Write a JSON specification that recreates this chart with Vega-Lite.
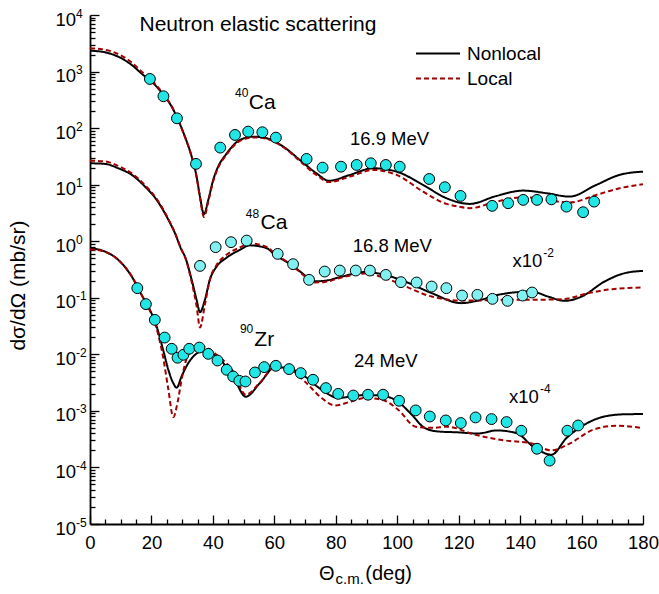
{
"$schema": "https://vega.github.io/schema/vega-lite/v6.json",
"width": 553, "height": 509,
"autosize": {"type": "none"},
"padding": {"left": 90, "top": 15, "right": 16, "bottom": 70},
"background": "white",
"config": {
  "view": {"stroke": null},
  "font": "Liberation Sans",
  "axis": {"grid": false, "labelFont": "Liberation Sans", "titleFont": "Liberation Sans", "labelColor": "black", "tickColor": "black", "domainColor": "black", "titleColor": "black", "labelFlush": false, "labelOverlap": false, "labelBound": false, "titleFontWeight": "normal"},
  "text": {"font": "Liberation Sans", "color": "black"}
},
"datasets": {
  "curves": [
    {"n":"40Ca","m":"Nonlocal","x":0,"y":2340},{"n":"40Ca","m":"Nonlocal","x":4.9,"y":2190},{"n":"40Ca","m":"Nonlocal","x":9.2,"y":1830},{"n":"40Ca","m":"Nonlocal","x":13.6,"y":1306},{"n":"40Ca","m":"Nonlocal","x":17.3,"y":871},{"n":"40Ca","m":"Nonlocal","x":20.1,"y":662},{"n":"40Ca","m":"Nonlocal","x":23.9,"y":385},{"n":"40Ca","m":"Nonlocal","x":26.6,"y":239},{"n":"40Ca","m":"Nonlocal","x":28.7,"y":139},{"n":"40Ca","m":"Nonlocal","x":30.9,"y":70.6},{"n":"40Ca","m":"Nonlocal","x":33.1,"y":31.3},{"n":"40Ca","m":"Nonlocal","x":34.7,"y":13.9},{"n":"40Ca","m":"Nonlocal","x":35.8,"y":6.15},{"n":"40Ca","m":"Nonlocal","x":37.1,"y":3.0},{"n":"40Ca","m":"Nonlocal","x":38.5,"y":5.38},{"n":"40Ca","m":"Nonlocal","x":40.1,"y":12.1},{"n":"40Ca","m":"Nonlocal","x":41.7,"y":20.8},{"n":"40Ca","m":"Nonlocal","x":44.2,"y":33.9},{"n":"40Ca","m":"Nonlocal","x":48.8,"y":61.8},{"n":"40Ca","m":"Nonlocal","x":53.1,"y":70.6},{"n":"40Ca","m":"Nonlocal","x":57.5,"y":66.2},{"n":"40Ca","m":"Nonlocal","x":62.9,"y":47.1},{"n":"40Ca","m":"Nonlocal","x":68.3,"y":27.4},{"n":"40Ca","m":"Nonlocal","x":73.7,"y":15.9},{"n":"40Ca","m":"Nonlocal","x":77.8,"y":11.7},{"n":"40Ca","m":"Nonlocal","x":84.6,"y":14.9},{"n":"40Ca","m":"Nonlocal","x":92.2,"y":19.5},{"n":"40Ca","m":"Nonlocal","x":99.8,"y":17.0},{"n":"40Ca","m":"Nonlocal","x":108.4,"y":9.91},{"n":"40Ca","m":"Nonlocal","x":116,"y":5.77},{"n":"40Ca","m":"Nonlocal","x":123.6,"y":4.57},{"n":"40Ca","m":"Nonlocal","x":132.3,"y":6.32},{"n":"40Ca","m":"Nonlocal","x":141,"y":7.85},{"n":"40Ca","m":"Nonlocal","x":148.6,"y":7.06},{"n":"40Ca","m":"Nonlocal","x":156.1,"y":6.15},{"n":"40Ca","m":"Nonlocal","x":164.8,"y":9.91},{"n":"40Ca","m":"Nonlocal","x":172.4,"y":14.9},{"n":"40Ca","m":"Nonlocal","x":180,"y":17.0},
    {"n":"48Ca","m":"Nonlocal","x":0,"y":23.9},{"n":"48Ca","m":"Nonlocal","x":4.9,"y":23.3},{"n":"48Ca","m":"Nonlocal","x":9.2,"y":19.5},{"n":"48Ca","m":"Nonlocal","x":13.6,"y":14.9},{"n":"48Ca","m":"Nonlocal","x":17.9,"y":9.25},{"n":"48Ca","m":"Nonlocal","x":21.7,"y":5.38},{"n":"48Ca","m":"Nonlocal","x":24.95,"y":2.73},{"n":"48Ca","m":"Nonlocal","x":27.65,"y":1.387},{"n":"48Ca","m":"Nonlocal","x":29.8,"y":0.703},{"n":"48Ca","m":"Nonlocal","x":30.9,"y":0.536},{"n":"48Ca","m":"Nonlocal","x":33.1,"y":0.2075},{"n":"48Ca","m":"Nonlocal","x":34.7,"y":0.092},{"n":"48Ca","m":"Nonlocal","x":35.8,"y":0.0557},{"n":"48Ca","m":"Nonlocal","x":37.4,"y":0.092},{"n":"48Ca","m":"Nonlocal","x":39,"y":0.2075},{"n":"48Ca","m":"Nonlocal","x":41.2,"y":0.356},{"n":"48Ca","m":"Nonlocal","x":44.2,"y":0.5},{"n":"48Ca","m":"Nonlocal","x":48.8,"y":0.703},{"n":"48Ca","m":"Nonlocal","x":52,"y":0.845},{"n":"48Ca","m":"Nonlocal","x":57.5,"y":0.753},{"n":"48Ca","m":"Nonlocal","x":60.2,"y":0.574},{"n":"48Ca","m":"Nonlocal","x":65.6,"y":0.382},{"n":"48Ca","m":"Nonlocal","x":69.9,"y":0.251},{"n":"48Ca","m":"Nonlocal","x":72.6,"y":0.195},{"n":"48Ca","m":"Nonlocal","x":76.4,"y":0.1995},{"n":"48Ca","m":"Nonlocal","x":81.9,"y":0.237},{"n":"48Ca","m":"Nonlocal","x":89.5,"y":0.285},{"n":"48Ca","m":"Nonlocal","x":96,"y":0.254},{"n":"48Ca","m":"Nonlocal","x":102.5,"y":0.194},{"n":"48Ca","m":"Nonlocal","x":111.2,"y":0.121},{"n":"48Ca","m":"Nonlocal","x":120.9,"y":0.0804},{"n":"48Ca","m":"Nonlocal","x":126.3,"y":0.0893},{"n":"48Ca","m":"Nonlocal","x":132.8,"y":0.1127},{"n":"48Ca","m":"Nonlocal","x":143.7,"y":0.129},{"n":"48Ca","m":"Nonlocal","x":149.1,"y":0.105},{"n":"48Ca","m":"Nonlocal","x":154.5,"y":0.0883},{"n":"48Ca","m":"Nonlocal","x":160,"y":0.105},{"n":"48Ca","m":"Nonlocal","x":167.5,"y":0.194},{"n":"48Ca","m":"Nonlocal","x":174,"y":0.272},{"n":"48Ca","m":"Nonlocal","x":180,"y":0.299},
    {"n":"90Zr","m":"Nonlocal","x":0,"y":0.753},{"n":"90Zr","m":"Nonlocal","x":4.9,"y":0.656},{"n":"90Zr","m":"Nonlocal","x":9.2,"y":0.468},{"n":"90Zr","m":"Nonlocal","x":13.6,"y":0.237},{"n":"90Zr","m":"Nonlocal","x":16.8,"y":0.1127},{"n":"90Zr","m":"Nonlocal","x":19.5,"y":0.0612},{"n":"90Zr","m":"Nonlocal","x":21.7,"y":0.031},{"n":"90Zr","m":"Nonlocal","x":23.8,"y":0.01202},{"n":"90Zr","m":"Nonlocal","x":25.5,"y":0.00533},{"n":"90Zr","m":"Nonlocal","x":27.1,"y":0.0031},{"n":"90Zr","m":"Nonlocal","x":28.2,"y":0.00257},{"n":"90Zr","m":"Nonlocal","x":29.8,"y":0.00406},{"n":"90Zr","m":"Nonlocal","x":32,"y":0.007},{"n":"90Zr","m":"Nonlocal","x":34.2,"y":0.00982},{"n":"90Zr","m":"Nonlocal","x":36.3,"y":0.01122},{"n":"90Zr","m":"Nonlocal","x":41.2,"y":0.00914},{"n":"90Zr","m":"Nonlocal","x":46.6,"y":0.00406},{"n":"90Zr","m":"Nonlocal","x":50.7,"y":0.00178},{"n":"90Zr","m":"Nonlocal","x":55.3,"y":0.0031},{"n":"90Zr","m":"Nonlocal","x":60.2,"y":0.00594},{"n":"90Zr","m":"Nonlocal","x":64.5,"y":0.00571},{"n":"90Zr","m":"Nonlocal","x":69.9,"y":0.00406},{"n":"90Zr","m":"Nonlocal","x":75.4,"y":0.00236},{"n":"90Zr","m":"Nonlocal","x":80.8,"y":0.00169},{"n":"90Zr","m":"Nonlocal","x":85.1,"y":0.0018},{"n":"90Zr","m":"Nonlocal","x":89.5,"y":0.00191},{"n":"90Zr","m":"Nonlocal","x":94.9,"y":0.00186},{"n":"90Zr","m":"Nonlocal","x":100.3,"y":0.00145},{"n":"90Zr","m":"Nonlocal","x":104.6,"y":0.00087},{"n":"90Zr","m":"Nonlocal","x":109,"y":0.000497},{"n":"90Zr","m":"Nonlocal","x":113.3,"y":0.000433},{"n":"90Zr","m":"Nonlocal","x":119.8,"y":0.000417},{"n":"90Zr","m":"Nonlocal","x":126.3,"y":0.000398},{"n":"90Zr","m":"Nonlocal","x":132.3,"y":0.000451},{"n":"90Zr","m":"Nonlocal","x":138.8,"y":0.000405},{"n":"90Zr","m":"Nonlocal","x":144.2,"y":0.000235},{"n":"90Zr","m":"Nonlocal","x":150.2,"y":0.000168},{"n":"90Zr","m":"Nonlocal","x":155.1,"y":0.000331},{"n":"90Zr","m":"Nonlocal","x":160,"y":0.000531},{"n":"90Zr","m":"Nonlocal","x":167.5,"y":0.000796},{"n":"90Zr","m":"Nonlocal","x":174,"y":0.000871},{"n":"90Zr","m":"Nonlocal","x":180,"y":0.000879},
    {"n":"40Ca","m":"Local","x":0,"y":2580},{"n":"40Ca","m":"Local","x":4.9,"y":2430},{"n":"40Ca","m":"Local","x":9.2,"y":2040},{"n":"40Ca","m":"Local","x":13.6,"y":1445},{"n":"40Ca","m":"Local","x":17.3,"y":944},{"n":"40Ca","m":"Local","x":20.1,"y":700},{"n":"40Ca","m":"Local","x":23.9,"y":398},{"n":"40Ca","m":"Local","x":26.6,"y":243},{"n":"40Ca","m":"Local","x":28.7,"y":139},{"n":"40Ca","m":"Local","x":30.9,"y":70},{"n":"40Ca","m":"Local","x":33.1,"y":30.9},{"n":"40Ca","m":"Local","x":34.7,"y":13.5},{"n":"40Ca","m":"Local","x":35.8,"y":5.89},{"n":"40Ca","m":"Local","x":37.1,"y":2.69},{"n":"40Ca","m":"Local","x":38.5,"y":5.01},{"n":"40Ca","m":"Local","x":40.1,"y":11.5},{"n":"40Ca","m":"Local","x":41.7,"y":20},{"n":"40Ca","m":"Local","x":44.2,"y":32.4},{"n":"40Ca","m":"Local","x":48.8,"y":59.6},{"n":"40Ca","m":"Local","x":53.1,"y":68.4},{"n":"40Ca","m":"Local","x":57.5,"y":64.6},{"n":"40Ca","m":"Local","x":62.9,"y":46.2},{"n":"40Ca","m":"Local","x":68.3,"y":26.3},{"n":"40Ca","m":"Local","x":73.7,"y":14.8},{"n":"40Ca","m":"Local","x":77.8,"y":11.1},{"n":"40Ca","m":"Local","x":84.6,"y":13.9},{"n":"40Ca","m":"Local","x":92.2,"y":18.2},{"n":"40Ca","m":"Local","x":99.8,"y":14.9},{"n":"40Ca","m":"Local","x":108.4,"y":7.55},{"n":"40Ca","m":"Local","x":116,"y":4.57},{"n":"40Ca","m":"Local","x":120,"y":4.09},{"n":"40Ca","m":"Local","x":123.6,"y":3.84},{"n":"40Ca","m":"Local","x":132.3,"y":5.02},{"n":"40Ca","m":"Local","x":141,"y":6.0},{"n":"40Ca","m":"Local","x":148.6,"y":5.38},{"n":"40Ca","m":"Local","x":156.1,"y":4.82},{"n":"40Ca","m":"Local","x":164.8,"y":6.59},{"n":"40Ca","m":"Local","x":172.4,"y":8.65},{"n":"40Ca","m":"Local","x":180,"y":10.2},
    {"n":"48Ca","m":"Local","x":0,"y":26.6},{"n":"48Ca","m":"Local","x":4.9,"y":25.7},{"n":"48Ca","m":"Local","x":9.2,"y":21.4},{"n":"48Ca","m":"Local","x":13.6,"y":15.8},{"n":"48Ca","m":"Local","x":17.9,"y":9.77},{"n":"48Ca","m":"Local","x":21.7,"y":5.62},{"n":"48Ca","m":"Local","x":24.95,"y":2.82},{"n":"48Ca","m":"Local","x":27.65,"y":1.41},{"n":"48Ca","m":"Local","x":29.8,"y":0.708},{"n":"48Ca","m":"Local","x":30.9,"y":0.531},{"n":"48Ca","m":"Local","x":33.1,"y":0.1905},{"n":"48Ca","m":"Local","x":34.7,"y":0.0708},{"n":"48Ca","m":"Local","x":35.8,"y":0.0298},{"n":"48Ca","m":"Local","x":37.4,"y":0.0759},{"n":"48Ca","m":"Local","x":39,"y":0.209},{"n":"48Ca","m":"Local","x":41.2,"y":0.38},{"n":"48Ca","m":"Local","x":44.2,"y":0.562},{"n":"48Ca","m":"Local","x":48.8,"y":0.776},{"n":"48Ca","m":"Local","x":52,"y":0.912},{"n":"48Ca","m":"Local","x":57.5,"y":0.794},{"n":"48Ca","m":"Local","x":60.2,"y":0.603},{"n":"48Ca","m":"Local","x":65.6,"y":0.38},{"n":"48Ca","m":"Local","x":69.9,"y":0.24},{"n":"48Ca","m":"Local","x":72.6,"y":0.186},{"n":"48Ca","m":"Local","x":76.4,"y":0.1905},{"n":"48Ca","m":"Local","x":81.9,"y":0.229},{"n":"48Ca","m":"Local","x":89.5,"y":0.269},{"n":"48Ca","m":"Local","x":96,"y":0.224},{"n":"48Ca","m":"Local","x":100.3,"y":0.181},{"n":"48Ca","m":"Local","x":111.2,"y":0.105},{"n":"48Ca","m":"Local","x":121,"y":0.0893},{"n":"48Ca","m":"Local","x":126.3,"y":0.0893},{"n":"48Ca","m":"Local","x":132.8,"y":0.092},{"n":"48Ca","m":"Local","x":143.7,"y":0.092},{"n":"48Ca","m":"Local","x":154,"y":0.0946},{"n":"48Ca","m":"Local","x":162.3,"y":0.121},{"n":"48Ca","m":"Local","x":169.9,"y":0.142},{"n":"48Ca","m":"Local","x":180,"y":0.152},
    {"n":"90Zr","m":"Local","x":0,"y":0.724},{"n":"90Zr","m":"Local","x":4.9,"y":0.646},{"n":"90Zr","m":"Local","x":9.2,"y":0.468},{"n":"90Zr","m":"Local","x":13.6,"y":0.24},{"n":"90Zr","m":"Local","x":16.8,"y":0.1122},{"n":"90Zr","m":"Local","x":19.5,"y":0.0589},{"n":"90Zr","m":"Local","x":21.7,"y":0.0282},{"n":"90Zr","m":"Local","x":23.8,"y":0.00891},{"n":"90Zr","m":"Local","x":25.5,"y":0.0024},{"n":"90Zr","m":"Local","x":27.1,"y":0.000776},{"n":"90Zr","m":"Local","x":28.5,"y":0.00141},{"n":"90Zr","m":"Local","x":29.8,"y":0.00355},{"n":"90Zr","m":"Local","x":31.4,"y":0.00832},{"n":"90Zr","m":"Local","x":33.1,"y":0.01175},{"n":"90Zr","m":"Local","x":36.3,"y":0.01374},{"n":"90Zr","m":"Local","x":38.5,"y":0.0126},{"n":"90Zr","m":"Local","x":41.2,"y":0.00982},{"n":"90Zr","m":"Local","x":46.6,"y":0.00498},{"n":"90Zr","m":"Local","x":50.7,"y":0.00193},{"n":"90Zr","m":"Local","x":55.3,"y":0.00316},{"n":"90Zr","m":"Local","x":60.2,"y":0.00589},{"n":"90Zr","m":"Local","x":64.5,"y":0.00562},{"n":"90Zr","m":"Local","x":69.9,"y":0.00331},{"n":"90Zr","m":"Local","x":75.4,"y":0.00169},{"n":"90Zr","m":"Local","x":79.7,"y":0.00125},{"n":"90Zr","m":"Local","x":85.1,"y":0.00147},{"n":"90Zr","m":"Local","x":89.5,"y":0.00169},{"n":"90Zr","m":"Local","x":94.9,"y":0.00158},{"n":"90Zr","m":"Local","x":100.3,"y":0.00105},{"n":"90Zr","m":"Local","x":106,"y":0.000525},{"n":"90Zr","m":"Local","x":111.5,"y":0.000501},{"n":"90Zr","m":"Local","x":116.3,"y":0.000525},{"n":"90Zr","m":"Local","x":125.4,"y":0.000378},{"n":"90Zr","m":"Local","x":135.3,"y":0.000299},{"n":"90Zr","m":"Local","x":143.5,"y":0.000269},{"n":"90Zr","m":"Local","x":150.2,"y":0.0002},{"n":"90Zr","m":"Local","x":156.4,"y":0.00027},{"n":"90Zr","m":"Local","x":163.7,"y":0.000463},{"n":"90Zr","m":"Local","x":171.4,"y":0.000546},{"n":"90Zr","m":"Local","x":180,"y":0.000497}
  ],
  "points": [
    {"n":"40Ca","x":19.5,"y":740},{"n":"40Ca","x":23.9,"y":366},{"n":"40Ca","x":28.3,"y":149},{"n":"40Ca","x":34.5,"y":23.3},{"n":"40Ca","x":42.4,"y":45.2},{"n":"40Ca","x":47.2,"y":75.7},{"n":"40Ca","x":51.5,"y":86.7},{"n":"40Ca","x":56.1,"y":84.5},{"n":"40Ca","x":60.5,"y":67.9},{"n":"40Ca","x":70.5,"y":28.5},{"n":"40Ca","x":75.7,"y":20.0},{"n":"40Ca","x":81.7,"y":20.8},{"n":"40Ca","x":86.8,"y":22.3},{"n":"40Ca","x":91.4,"y":23.9},{"n":"40Ca","x":96.3,"y":22.3},{"n":"40Ca","x":100.8,"y":20.8},{"n":"40Ca","x":110.4,"y":12.6},{"n":"40Ca","x":115.5,"y":9.02},{"n":"40Ca","x":120.6,"y":6.32},{"n":"40Ca","x":130.9,"y":4.22},{"n":"40Ca","x":136.1,"y":4.7},{"n":"40Ca","x":141,"y":5.38},{"n":"40Ca","x":145.5,"y":5.38},{"n":"40Ca","x":150.2,"y":5.5},{"n":"40Ca","x":155.1,"y":4.09},{"n":"40Ca","x":160.5,"y":3.26},{"n":"40Ca","x":164.1,"y":5.02},
    {"n":"48Ca","x":35.8,"y":0.366},{"n":"48Ca","x":40.9,"y":0.785},{"n":"48Ca","x":45.9,"y":0.962},{"n":"48Ca","x":51,"y":1.026},{"n":"48Ca","x":61.1,"y":0.597},{"n":"48Ca","x":66.1,"y":0.393},{"n":"48Ca","x":71.3,"y":0.2075},{"n":"48Ca","x":76.4,"y":0.291},{"n":"48Ca","x":81.3,"y":0.303},{"n":"48Ca","x":86.5,"y":0.303},{"n":"48Ca","x":91.1,"y":0.303},{"n":"48Ca","x":96.3,"y":0.254},{"n":"48Ca","x":101.2,"y":0.189},{"n":"48Ca","x":106.3,"y":0.186},{"n":"48Ca","x":111.2,"y":0.158},{"n":"48Ca","x":116,"y":0.148},{"n":"48Ca","x":121.1,"y":0.1096},{"n":"48Ca","x":126.1,"y":0.1127},{"n":"48Ca","x":131,"y":0.0957},{"n":"48Ca","x":135.9,"y":0.0883},{"n":"48Ca","x":140.8,"y":0.1096},{"n":"48Ca","x":143.9,"y":0.124},
    {"n":"90Zr","x":15.4,"y":0.148},{"n":"90Zr","x":18.2,"y":0.0773},{"n":"90Zr","x":21.1,"y":0.0407},{"n":"90Zr","x":24.3,"y":0.0198},{"n":"90Zr","x":26.6,"y":0.01253},{"n":"90Zr","x":28.5,"y":0.00871},{"n":"90Zr","x":30.4,"y":0.00982},{"n":"90Zr","x":32.3,"y":0.01253},{"n":"90Zr","x":35.6,"y":0.01318},{"n":"90Zr","x":38.5,"y":0.01021},{"n":"90Zr","x":41.5,"y":0.00778},{"n":"90Zr","x":44.5,"y":0.00533},{"n":"90Zr","x":46.6,"y":0.00406},{"n":"90Zr","x":48.6,"y":0.0034},{"n":"90Zr","x":50.6,"y":0.00331},{"n":"90Zr","x":53.7,"y":0.00478},{"n":"90Zr","x":56.7,"y":0.00594},{"n":"90Zr","x":60.5,"y":0.00627},{"n":"90Zr","x":64.8,"y":0.00548},{"n":"90Zr","x":68.6,"y":0.00466},{"n":"90Zr","x":72.6,"y":0.00355},{"n":"90Zr","x":76.8,"y":0.00253},{"n":"90Zr","x":80.8,"y":0.002},{"n":"90Zr","x":85.7,"y":0.00187},{"n":"90Zr","x":90.5,"y":0.00193},{"n":"90Zr","x":95.4,"y":0.00193},{"n":"90Zr","x":100.6,"y":0.00151},{"n":"90Zr","x":106,"y":0.00102},{"n":"90Zr","x":110.6,"y":0.000796},{"n":"90Zr","x":115.8,"y":0.000678},{"n":"90Zr","x":120.7,"y":0.00061},{"n":"90Zr","x":125.5,"y":0.000766},{"n":"90Zr","x":130.7,"y":0.000716},{"n":"90Zr","x":135.6,"y":0.000634},{"n":"90Zr","x":140.4,"y":0.000446},{"n":"90Zr","x":145.5,"y":0.000214},{"n":"90Zr","x":149.6,"y":0.000132},{"n":"90Zr","x":155.4,"y":0.000446},{"n":"90Zr","x":158.9,"y":0.000552}
  ],
  "bigtext": [
    {"t":"16.9 MeV","x":84.6,"y":50.4},{"t":"16.8 MeV","x":85.5,"y":0.64},{"t":"24 MeV","x":85.9,"y":0.005945},{"t":"x10","x":137.5,"y":0.3565},{"t":"x10","x":136.4,"y":0.001374}
  ],
  "names": [
    {"t":"Neutron elastic scattering","x":16.1,"y":5212},{"t":"Ca","x":51.7,"y":215.5},{"t":"Ca","x":55.5,"y":1.62},{"t":"Zr","x":53.5,"y":0.01432}
  ],
  "sups": [
    {"t":"40","x":47.2,"y":351},{"t":"48","x":50.7,"y":2.585},{"t":"90","x":48.8,"y":0.02353},{"t":"-2","x":147.5,"y":0.5355},{"t":"-4","x":146.5,"y":0.002065}
  ],
  "xtitle": [
    {"t":"Θ","x":74.5,"y":1.037e-6},{"t":"(deg)","x":89.6,"y":1.037e-6}
  ],
  "xsub": [
    {"t":"c.m.","x":79.9,"y":8.81e-7}
  ]
},
"resolve": {"axis": {"x": "independent", "y": "independent"}},
"layer": [
  {
    "data": {"name": "curves"},
    "mark": {"type": "line", "interpolate": "monotone", "strokeWidth": 2},
    "encoding": {
      "x": {"field": "x", "type": "quantitative", "scale": {"domain": [0, 180], "nice": false},
        "axis": {"orient": "bottom", "values": [0,20,40,60,80,100,120,140,160,180], "tickSize": -9, "tickWidth": 1.3, "domainWidth": 1.8, "labelFontSize": 18.5, "labelPadding": 18.4, "labelBaseline": "top", "title": null}},
      "y": {"field": "y", "type": "quantitative", "scale": {"type": "log", "domain": [1e-5, 1e4], "nice": false},
        "axis": {"orient": "left", "values": [1e-5,1e-4,1e-3,1e-2,1e-1,1,10,100,1000,10000], "labelExpr": "'10'", "tickSize": -9, "tickWidth": 1.3, "domainWidth": 1.8, "labelFontSize": 18.5, "labelPadding": 23.5, "labelAlign": "right", "labelBaseline": "alphabetic", "labelOffset": 10,
          "title": "dσ/dΩ (mb/sr)", "titleFontSize": 21, "titleX": -65.5, "titleY": 270, "titleAngle": -90, "titleBaseline": "alphabetic", "titleAlign": "center"}},
      "color": {"field": "m", "type": "nominal", "scale": {"domain": ["Nonlocal", "Local"], "range": ["black", "#A00000"]},
        "legend": {"orient": "none", "legendX": 325, "legendY": 28.5, "title": null, "symbolType": "stroke", "symbolSize": 1936, "symbolStrokeWidth": 2, "labelFontSize": 19, "labelFont": "Liberation Sans", "labelColor": "black", "labelOffset": 6, "clipHeight": 20, "rowPadding": 5, "padding": 0}},
      "strokeDash": {"field": "m", "type": "nominal", "scale": {"domain": ["Nonlocal", "Local"], "range": [[1, 0], [5, 3]]},
        "legend": {"orient": "none", "legendX": 325, "legendY": 28.5, "title": null, "symbolType": "stroke", "symbolSize": 1936, "symbolStrokeWidth": 2, "labelFontSize": 19, "labelFont": "Liberation Sans", "labelColor": "black", "labelOffset": 6, "clipHeight": 20, "rowPadding": 5, "padding": 0}},
      "detail": {"field": "n"}
    }
  },
  {
    "data": {"name": "points"},
    "mark": {"type": "circle", "size": 118, "stroke": "black", "strokeWidth": 1, "opacity": 1},
    "encoding": {
      "x": {"field": "x", "type": "quantitative", "scale": {"domain": [0, 180], "nice": false},
        "axis": {"orient": "bottom", "values": [5,10,15,25,30,35,45,50,55,65,70,75,85,90,95,105,110,115,125,130,135,145,150,155,165,170,175], "tickSize": -5, "tickWidth": 1.3, "labels": false, "domain": false, "title": null}},
      "y": {"field": "y", "type": "quantitative", "scale": {"type": "log", "domain": [1e-5, 1e4], "nice": false},
        "axis": {"orient": "left", "values": [2e-5,3e-5,4e-5,5e-5,6e-5,7e-5,8e-5,9e-5,2e-4,3e-4,4e-4,5e-4,6e-4,7e-4,8e-4,9e-4,2e-3,3e-3,4e-3,5e-3,6e-3,7e-3,8e-3,9e-3,2e-2,3e-2,4e-2,5e-2,6e-2,7e-2,8e-2,9e-2,0.2,0.3,0.4,0.5,0.6,0.7,0.8,0.9,2,3,4,5,6,7,8,9,20,30,40,50,60,70,80,90,200,300,400,500,600,700,800,900,2000,3000,4000,5000,6000,7000,8000,9000], "tickSize": -5, "tickWidth": 1.3, "labels": false, "domain": false, "title": null}},
      "fill": {"field": "n", "type": "nominal", "scale": {"domain": ["40Ca", "48Ca", "90Zr"], "range": ["#22E6E6", "#80F0F0", "#22E6E6"]}, "legend": null}
    }
  },
  {
    "data": {"name": "bigtext"},
    "mark": {"type": "text", "align": "left", "baseline": "alphabetic", "fontSize": 18.5},
    "encoding": {
      "x": {"field": "x", "type": "quantitative", "scale": {"domain": [0, 180], "nice": false}, "axis": null},
      "y": {"field": "y", "type": "quantitative", "scale": {"type": "log", "domain": [1e-5, 1e4], "nice": false},
        "axis": {"orient": "left", "values": [1e-5,1e-4,1e-3,1e-2,1e-1,1,10,100,1000,10000], "labelExpr": "'' + round(log(datum.value)/LN10)", "ticks": false, "tickSize": 0, "domain": false, "labelAlign": "left", "labelBaseline": "alphabetic", "labelPadding": 14.5, "labelFontSize": 12, "labelOffset": 2, "title": null}},
      "text": {"field": "t"}
    }
  },
  {
    "data": {"name": "names"},
    "mark": {"type": "text", "align": "left", "baseline": "alphabetic", "fontSize": 21},
    "encoding": {
      "x": {"field": "x", "type": "quantitative", "scale": {"domain": [0, 180], "nice": false}, "axis": null},
      "y": {"field": "y", "type": "quantitative", "scale": {"type": "log", "domain": [1e-5, 1e4], "nice": false}, "axis": null},
      "text": {"field": "t"}
    }
  },
  {
    "data": {"name": "sups"},
    "mark": {"type": "text", "align": "left", "baseline": "alphabetic", "fontSize": 12},
    "encoding": {
      "x": {"field": "x", "type": "quantitative", "scale": {"domain": [0, 180], "nice": false}, "axis": null},
      "y": {"field": "y", "type": "quantitative", "scale": {"type": "log", "domain": [1e-5, 1e4], "nice": false}, "axis": null},
      "text": {"field": "t"}
    }
  },
  {
    "data": {"name": "xtitle"},
    "mark": {"type": "text", "align": "left", "baseline": "alphabetic", "fontSize": 20},
    "encoding": {
      "x": {"field": "x", "type": "quantitative", "scale": {"domain": [0, 180], "nice": false}, "axis": null},
      "y": {"field": "y", "type": "quantitative", "scale": {"type": "log", "domain": [1e-5, 1e4], "nice": false}, "axis": null},
      "text": {"field": "t"}
    }
  },
  {
    "data": {"name": "xsub"},
    "mark": {"type": "text", "align": "left", "baseline": "alphabetic", "fontSize": 15},
    "encoding": {
      "x": {"field": "x", "type": "quantitative", "scale": {"domain": [0, 180], "nice": false}, "axis": null},
      "y": {"field": "y", "type": "quantitative", "scale": {"type": "log", "domain": [1e-5, 1e4], "nice": false}, "axis": null},
      "text": {"field": "t"}
    }
  }
]
}
